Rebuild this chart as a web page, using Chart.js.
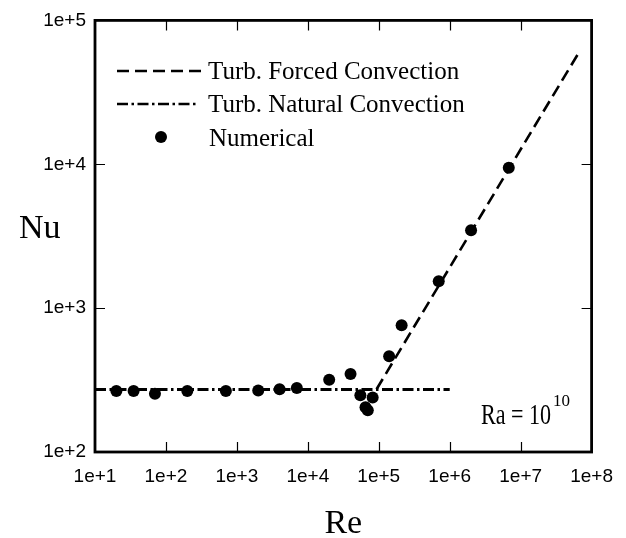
<!DOCTYPE html>
<html><head><meta charset="utf-8">
<script src="https://cdn.jsdelivr.net/npm/chart.js@4.4.1/dist/chart.umd.min.js"></script>
<style>html,body{margin:0;padding:0;background:#fff;}</style>
</head><body>
<canvas id="c" width="626" height="538" style="width:626px;height:538px;display:block"></canvas>
<script>
// ---- data ----
const xTickValues = [1e1, 1e2, 1e3, 1e4, 1e5, 1e6, 1e7, 1e8];
const xTickLabels = ['1e+1', '1e+2', '1e+3', '1e+4', '1e+5', '1e+6', '1e+7', '1e+8'];
const yTickValues = [1e2, 1e3, 1e4, 1e5];
const yTickLabels = ['1e+2', '1e+3', '1e+4', '1e+5'];

const numRe = [20, 35, 70, 200, 700, 2000, 4000, 7000, 20000, 40000, 55000, 65000, 70000, 82000, 140000, 210000, 700000, 2000000, 6800000];
const numNu = [265, 265, 254, 265, 265, 268, 273, 279, 318, 349, 248, 205, 195, 239, 463, 759, 1535, 3475, 9460];

const forcedRe = [93000, 66000000];
const forcedNu = [273, 59700];

const naturalRe = [10, 1000000];
const naturalNu = [272, 272];

const legendLabels = ['Turb. Forced Convection', 'Turb. Natural Convection', 'Numerical'];
const xTitle = 'Re';
const yTitle = 'Nu';

// ---- build ----
const toXY = (xs, ys) => xs.map((x, i) => ({x: x, y: ys[i]}));
const forcedDash = [12, 6];
const naturalDash = [11, 3.5, 2.5, 3.5];

const framePlugin = {
  id: 'frame',
  afterDraw(chart) {
    const ctx = chart.ctx;
    const a = chart.chartArea;
    const xs = chart.scales.x, ys = chart.scales.y;
    ctx.save();
    ctx.strokeStyle = '#000';
    // ticks inward
    ctx.lineWidth = 1.2;
    ctx.beginPath();
    xTickValues.forEach(v => {
      const px = Math.round(xs.getPixelForValue(v)) + 0.5;
      if (px <= a.left + 2 || px >= a.right - 2) return;
      ctx.moveTo(px, a.bottom); ctx.lineTo(px, a.bottom - 10);
      ctx.moveTo(px, a.top); ctx.lineTo(px, a.top + 10);
    });
    yTickValues.forEach(v => {
      const py = Math.round(ys.getPixelForValue(v)) + 0.5;
      if (py <= a.top + 2 || py >= a.bottom - 2) return;
      ctx.moveTo(a.left, py); ctx.lineTo(a.left + 10, py);
      ctx.moveTo(a.right, py); ctx.lineTo(a.right - 10, py);
    });
    ctx.stroke();
    // box
    ctx.lineWidth = 2.8;
    ctx.strokeRect(a.left, a.top, a.right - a.left, a.bottom - a.top);

    // legend
    ctx.lineWidth = 2.6;
    ctx.lineCap = 'butt';
    ctx.setLineDash(forcedDash);
    ctx.beginPath(); ctx.moveTo(117, 71); ctx.lineTo(205, 71); ctx.stroke();
    ctx.setLineDash(naturalDash);
    ctx.beginPath(); ctx.moveTo(117, 104); ctx.lineTo(198, 104); ctx.stroke();
    ctx.setLineDash([]);
    ctx.fillStyle = '#000';
    ctx.beginPath(); ctx.arc(161, 137, 6, 0, Math.PI * 2); ctx.fill();

    ctx.font = '25px "Liberation Serif"';
    ctx.textBaseline = 'alphabetic';
    ctx.textAlign = 'left';
    ctx.fillText(legendLabels[0], 208, 79);
    ctx.fillText(legendLabels[1], 208, 112);
    ctx.fillText(legendLabels[2], 209, 146);

    // axis titles
    ctx.font = '34px "Liberation Serif"';
    ctx.textAlign = 'left';
    ctx.fillText(yTitle, 19, 238, 43);
    ctx.textAlign = 'center';
    ctx.fillText(xTitle, (a.left + a.right) / 2, 533);

    // Ra label
    ctx.font = '29px "Liberation Serif"';
    ctx.textAlign = 'right';
    ctx.fillText('Ra = 10', 551, 424, 70);
    ctx.font = '17px "Liberation Serif"';
    ctx.textAlign = 'left';
    ctx.fillText('10', 553, 406, 17);
    ctx.restore();
  }
};

new Chart(document.getElementById('c'), {
  type: 'scatter',
  data: {
    datasets: [
      {
        label: legendLabels[2],
        data: toXY(numRe, numNu),
        pointRadius: 6,
        pointBackgroundColor: '#000',
        pointBorderColor: '#000',
        pointBorderWidth: 0,
        showLine: false
      },
      {
        label: legendLabels[0],
        data: toXY(forcedRe, forcedNu),
        showLine: true,
        pointRadius: 0,
        borderColor: '#000',
        borderWidth: 2.6,
        borderDash: forcedDash,
        fill: false
      },
      {
        label: legendLabels[1],
        data: toXY(naturalRe, naturalNu),
        showLine: true,
        pointRadius: 0,
        borderColor: '#000',
        borderWidth: 2.8,
        borderDash: naturalDash,
        fill: false
      }
    ]
  },
  options: {
    responsive: false,
    animation: false,
    devicePixelRatio: 1,
    layout: {padding: {top: 20, right: 34, left: 0, bottom: 0}},
    plugins: {legend: {display: false}, tooltip: {enabled: false}},
    scales: {
      x: {
        type: 'logarithmic', min: 10, max: 1e8, position: 'bottom',
        grid: {display: false, drawTicks: false},
        border: {display: false},
        ticks: {
          color: '#000', padding: 13, autoSkip: false, maxRotation: 0,
          font: {family: '"Liberation Sans"', size: 19},
          callback: (v, i) => xTickLabels[i]
        },
        afterBuildTicks: s => { s.ticks = xTickValues.map(v => ({value: v})); },
        afterFit: s => { s.height = 86; }
      },
      y: {
        type: 'logarithmic', min: 100, max: 1e5, position: 'left',
        grid: {display: false, drawTicks: false},
        border: {display: false},
        ticks: {
          color: '#000', padding: 9, autoSkip: false,
          font: {family: '"Liberation Sans"', size: 19},
          callback: (v, i) => yTickLabels[i]
        },
        afterBuildTicks: s => { s.ticks = yTickValues.map(v => ({value: v})); },
        afterFit: s => { s.width = 95; }
      }
    }
  },
  plugins: [framePlugin]
});
</script>
</body></html>
